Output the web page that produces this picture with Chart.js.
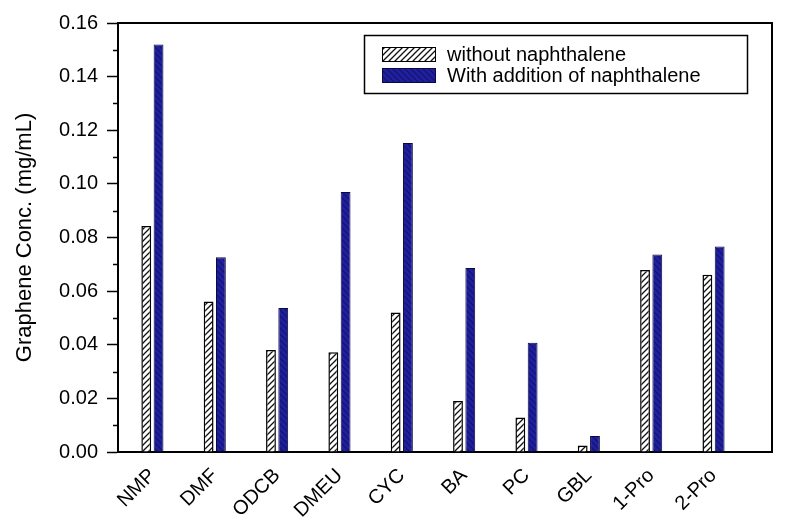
<!DOCTYPE html>
<html>
<head>
<meta charset="utf-8">
<script src="https://cdn.jsdelivr.net/npm/chart.js@4.4.1/dist/chart.umd.min.js"></script>
<style>html,body{margin:0;padding:0;background:#fff}</style>
</head>
<body>
<canvas id="grafico" width="788" height="525"></canvas>
<script>
// Datos
const disolventes = ['NMP', 'DMF', 'ODCB', 'DMEU', 'CYC', 'BA', 'PC', 'GBL', '1-Pro', '2-Pro'];
const sinNaftaleno = [0.0843, 0.0561, 0.0380, 0.0372, 0.0520, 0.0190, 0.0129, 0.0024, 0.0679, 0.0661];
const conNaftaleno = [0.1520, 0.0726, 0.0537, 0.0970, 0.1152, 0.0686, 0.0407, 0.0060, 0.0737, 0.0766];
const etiquetas = ['without naphthalene', 'With addition of naphthalene'];
const tituloY = 'Graphene Conc. (mg/mL)';
const marcasMenores = [0.01, 0.03, 0.05, 0.07, 0.09, 0.11, 0.13, 0.15];

const FUENTE = "'Liberation Sans', Arial, sans-serif";
const canvas = document.getElementById('grafico');
const ctx = canvas.getContext('2d');

// Relleno rayado para las barras
function crearRayado(fondo, linea, grosor, direccion) {
  const c = document.createElement('canvas');
  c.width = 6; c.height = 6;
  const g = c.getContext('2d');
  g.fillStyle = fondo;
  g.fillRect(0, 0, 6, 6);
  g.strokeStyle = linea;
  g.lineWidth = grosor;
  g.beginPath();
  if (direccion === '/') {
    g.moveTo(-1, 7); g.lineTo(7, -1);
    g.moveTo(-1, 1); g.lineTo(1, -1);
    g.moveTo(5, 7); g.lineTo(7, 5);
  } else {
    g.moveTo(-1, -1); g.lineTo(7, 7);
    g.moveTo(5, -1); g.lineTo(7, 1);
    g.moveTo(-1, 5); g.lineTo(1, 7);
  }
  g.stroke();
  return ctx.createPattern(c, 'repeat');
}

const rayadoBlanco = crearRayado('#ffffff', '#111111', 1.3, '/');
const rayadoAzul = crearRayado('#1f1fa0', '#14146a', 1.1, '\\');

// Marco superior/derecho, marcas menores y leyenda
const marcoYLeyenda = {
  id: 'marcoYLeyenda',
  afterDraw(chart) {
    const a = chart.chartArea;
    const c = chart.ctx;
    const y = chart.scales.y;
    c.save();
    c.strokeStyle = '#000';
    c.lineWidth = 2;
    c.beginPath();
    c.moveTo(a.left, a.top);
    c.lineTo(a.right, a.top);
    c.lineTo(a.right, a.bottom);
    c.stroke();

    c.lineWidth = 1.5;
    c.beginPath();
    marcasMenores.forEach(v => {
      const py = Math.round(y.getPixelForValue(v)) + 0.5;
      c.moveTo(a.left - 5, py);
      c.lineTo(a.left, py);
    });
    c.stroke();

    // leyenda
    c.lineWidth = 1.5;
    c.strokeRect(364.5, 35.5, 383, 58);
    c.font = '20px ' + FUENTE;
    c.textBaseline = 'middle';
    chart.data.datasets.forEach((ds, i) => {
      const top = 47 + i * 21;
      c.fillStyle = ds.backgroundColor;
      c.fillRect(382, top, 54, 15);
      c.lineWidth = 1;
      c.strokeStyle = ds.borderColor;
      c.strokeRect(382.5, top + 0.5, 53, 14);
      c.fillStyle = '#000';
      c.fillText(ds.label, 447, top + 8);
    });
    c.restore();
  }
};

new Chart(canvas, {
  type: 'bar',
  data: {
    datasets: [{
      label: etiquetas[0],
      data: sinNaftaleno.map((v, i) => ({ x: i, y: v })),
      backgroundColor: rayadoBlanco,
      borderColor: '#000000',
      borderWidth: 1.5
    }, {
      label: etiquetas[1],
      data: conNaftaleno.map((v, i) => ({ x: i, y: v })),
      backgroundColor: rayadoAzul,
      borderColor: '#0a0a40',
      borderWidth: 1
    }]
  },
  options: {
    responsive: false,
    animation: false,
    devicePixelRatio: 1,
    categoryPercentage: 0.394,
    barPercentage: 0.8,
    layout: { padding: { top: 23, right: 16, left: 0, bottom: 0 } },
    plugins: {
      legend: { display: false },
      tooltip: { enabled: false }
    },
    scales: {
      x: {
        type: 'linear',
        offset: false,
        min: -0.552,
        max: 9.938,
        afterFit(s) { s.height = 73; },
        grid: { display: false, offset: false },
        border: { display: true, color: '#000', width: 2 },
        ticks: {
          stepSize: 1,
          includeBounds: false,
          autoSkip: false,
          minRotation: 45,
          maxRotation: 45,
          padding: 4,
          color: '#000',
          font: { family: FUENTE, size: 20 },
          callback: v => (Number.isInteger(v) ? disolventes[v] : '')
        }
      },
      y: {
        min: 0,
        max: 0.16,
        afterFit(s) { s.width = 118; },
        grid: {
          drawOnChartArea: false,
          drawTicks: true,
          tickLength: 11,
          tickWidth: 1.5,
          tickColor: '#000'
        },
        border: { display: true, color: '#000', width: 2 },
        ticks: {
          stepSize: 0.02,
          padding: 9,
          color: '#000',
          font: { family: FUENTE, size: 20 },
          callback: v => v.toFixed(2)
        },
        title: {
          display: true,
          text: tituloY,
          color: '#000',
          font: { family: FUENTE, size: 22 },
          padding: { top: 12, bottom: 0 }
        }
      }
    }
  },
  plugins: [marcoYLeyenda]
});
</script>
</body>
</html>
